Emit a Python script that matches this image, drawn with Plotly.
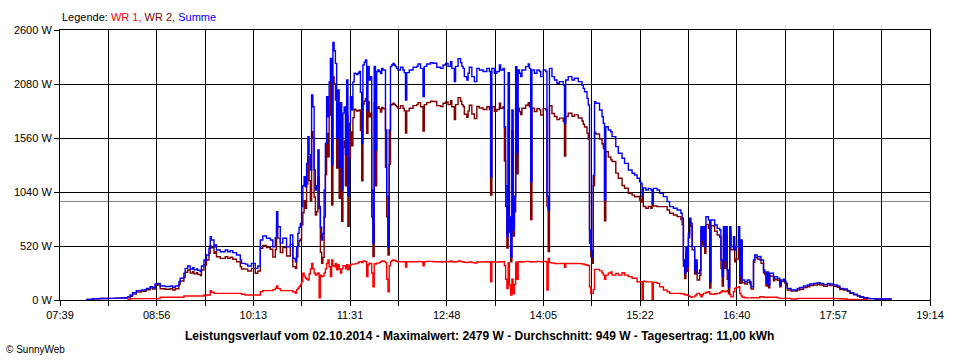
import plotly.graph_objects as go
from datetime import datetime

DAY = "2014-10-02"

times = [
    "08:00","08:05","08:11","08:17","08:23","08:28","08:33","08:35","08:37","08:40",
    "08:44","08:47","08:48","08:51","08:53","08:55","08:57","08:59","09:03","09:07",
    "09:09","09:11","09:14","09:15","09:18","09:19","09:21","09:23","09:25","09:26",
    "09:28","09:29","09:31","09:32","09:34","09:36","09:38","09:39","09:40","09:42",
    "09:43","09:44","09:47","09:50","09:51","09:53","09:55","09:57","10:00","10:03",
    "10:04","10:07","10:09","10:12","10:15","10:17","10:19","10:21","10:24","10:27",
    "10:29","10:31","10:32","10:33","10:35","10:37","10:40","10:43","10:45","10:47",
    "10:48","10:49","10:50",
    "10:51","10:52","10:53","10:54","10:55","10:56","10:57","10:58","10:59","11:00",
    "11:01","11:02","11:03","11:04","11:05","11:06","11:07","11:08","11:09","11:10",
    "11:11","11:12","11:13","11:14","11:15","11:16","11:17","11:18","11:19","11:20",
    "11:21","11:22","11:23","11:24","11:25","11:26","11:27","11:28","11:29","11:30",
    "11:31","11:32","11:33","11:34","11:35","11:36","11:37","11:38","11:39","11:40",
    "11:41","11:42","11:43","11:44","11:45","11:46","11:47","11:48","11:49","11:50",
    "11:51","11:52","11:53","11:54","11:55","11:56","11:57","11:58","11:59","12:00",
    "12:01","12:02","12:03","12:04","12:05",
    "12:06","12:07","12:08","12:09","12:11","12:13","12:14","12:15","12:16","12:18",
    "12:21","12:24","12:25","12:27","12:29","12:30","12:32","12:35","12:37","12:40",
    "12:43","12:45","12:47","12:49","12:51","12:52","12:54","12:55","12:57","12:59",
    "13:00","13:01","13:02","13:04","13:05","13:06","13:08","13:10","13:12","13:14",
    "13:17","13:20","13:22","13:23","13:24","13:26","13:28","13:30","13:31","13:33",
    "13:34","13:35","13:36","13:37","13:38","13:39","13:40","13:41","13:42","13:43",
    "13:44","13:45",
    "13:46","13:47","13:48","13:51","13:53","13:54","13:55","13:56","13:58","14:00",
    "14:02","14:03","14:05","14:07","14:08","14:09","14:10","14:12","14:14","14:16",
    "14:18","14:21","14:22","14:23","14:25","14:28","14:30","14:33","14:36","14:37",
    "14:38","14:40","14:41","14:42","14:43","14:44","14:45","14:46","14:47","14:50",
    "14:52","14:53","14:54","14:55","14:57","14:59","15:00","15:03","15:05","15:08",
    "15:10","15:13","15:16","15:18","15:20",
    "15:22","15:23","15:24","15:25","15:27","15:29","15:31","15:32","15:33","15:36",
    "15:38","15:41","15:44","15:46","15:49","15:52","15:55","15:56","15:57","15:58",
    "15:59","16:00","16:01","16:02","16:03","16:04","16:06","16:07","16:08","16:10",
    "16:11","16:12","16:13","16:14","16:15","16:17","16:18","16:19","16:22","16:24",
    "16:26","16:27","16:28","16:29","16:30","16:31","16:32","16:33","16:34","16:35",
    "16:37","16:38","16:39","16:41","16:42","16:43","16:44","16:46","16:48","16:50",
    "16:51","16:53","16:54","16:56",
    "16:58","16:59","17:01","17:02","17:03","17:04","17:05","17:06","17:08","17:09",
    "17:10","17:12","17:14","17:15","17:17","17:18","17:19","17:20","17:23","17:25",
    "17:28","17:30","17:33","17:36","17:38","17:41","17:44","17:46","17:49","17:52",
    "17:54","17:57","18:00","18:02","18:05","18:08","18:10","18:13","18:16","18:18",
    "18:21","18:24","18:26","18:30","18:34","18:38","18:43",
]

# Summe (blue), W
summe = [
    5,12,14,16,18,19,30,48,70,90,
    96,100,112,128,118,154,160,135,130,135,
    122,135,176,209,257,305,327,298,310,290,
    300,285,273,327,385,433,498,610,578,513,
    530,481,465,465,481,465,475,456,433,385,
    353,345,327,353,305,327,578,616,595,578,
    513,600,850,706,548,594,513,626,401,369,
    513,642,700,
    738,899,1100,1187,1091,1316,1573,1400,1252,1974,
    1861,1252,1059,1100,1445,900,700,578,640,1059,
    1509,1958,1765,2100,2327,1300,2479,2400,2279,1560,
    2022,1280,1900,1059,1800,1860,1400,2119,1000,1700,
    1958,1830,2100,2183,2180,2170,2183,2200,2000,1509,
    2263,2290,2311,1830,2250,2119,2150,1059,546,2250,
    1445,2200,2215,2200,2180,2230,2215,2215,1637,1000,
    513,1637,2247,2263,2279,
    2263,2247,2230,2215,2241,2215,2190,1926,2190,2215,
    2241,2250,2273,2230,1958,2250,2273,2286,2280,2241,
    2230,2263,2279,2250,2295,2230,2103,2250,2324,2286,
    2250,2230,2151,2119,2183,2241,2151,2103,2230,2215,
    2200,2230,2200,1187,2230,2183,2200,2263,2215,2230,
    1669,1100,610,2190,800,417,1830,675,1000,2247,
    1416,2215,
    2183,2151,2215,2247,2273,2230,1139,2215,2183,2215,
    2200,2151,2215,2200,1000,867,2230,2151,2119,2087,
    2103,2070,1701,2119,2151,2119,2135,2103,2070,2038,
    2006,1942,1878,674,480,417,1200,1910,1894,1830,
    1765,1701,963,1669,1637,1620,1573,1477,1413,1365,
    1316,1252,1220,1204,1172,
    1139,1120,1000,1080,1059,1075,1059,931,1075,1059,
    1027,995,947,899,883,867,835,787,385,257,
    510,321,640,787,738,514,289,385,257,289,
    706,578,706,514,802,770,176,770,722,690,
    674,385,225,706,385,706,289,128,706,514,
    610,480,514,706,225,578,192,176,192,176,
    128,385,433,417,
    420,385,289,270,160,270,144,257,257,210,
    225,210,144,193,200,180,160,112,96,96,
    112,120,135,144,154,160,167,160,148,160,
    154,144,135,112,106,90,70,55,42,32,
    22,16,13,10,10,10,8,
]

# WR 1 (red), W
wr1 = [
    None,None,None,None,None,None,5,13,13,13,
    13,13,13,13,13,13,13,26,26,26,
    26,26,26,26,38,38,38,38,38,38,
    38,38,38,38,48,48,48,90,75,64,
    64,64,64,64,64,64,64,64,64,64,
    55,48,48,48,48,48,80,90,90,90,
    100,113,135,110,90,90,90,90,80,64,
    100,113,130,
    150,176,257,230,209,200,193,250,300,353,
    300,260,241,250,260,20,240,225,230,260,
    300,353,385,320,225,385,330,320,353,290,
    340,300,260,300,330,330,300,340,290,330,
    340,345,345,345,350,350,360,369,369,360,
    375,375,370,225,340,355,350,260,128,350,
    345,355,355,360,370,375,375,370,360,200,
    80,330,370,380,385,
    380,375,370,370,369,369,369,318,369,369,
    369,369,372,369,330,369,372,372,369,369,
    366,369,372,369,375,369,366,369,375,372,
    369,366,362,360,362,366,360,356,366,366,
    366,369,366,176,369,366,366,369,369,369,
    330,200,110,360,145,48,200,60,150,365,
    200,369,
    369,366,369,372,372,369,365,369,369,372,
    369,369,372,369,96,400,360,355,352,350,
    352,350,315,352,352,350,352,350,346,346,
    340,335,330,128,64,64,100,295,295,280,
    260,240,200,240,260,270,240,255,240,262,
    240,225,210,210,176,
    176,176,0,180,175,175,175,0,170,160,
    128,96,80,64,64,64,60,60,60,50,
    50,45,40,35,26,30,40,50,64,50,
    30,50,64,64,75,80,60,55,60,64,
    70,80,90,85,80,85,90,60,50,30,
    80,112,120,128,64,40,26,22,20,20,
    22,22,22,22,
    32,32,26,26,26,26,26,26,26,26,
    26,20,16,16,16,16,16,16,10,10,
    16,16,16,16,16,16,16,16,16,16,
    16,13,13,12,10,6,6,5,4,4,
    3,2,None,None,None,None,None,
]

# WR 2 (dark red), W
wr2 = [
    5,12,14,16,18,19,25,35,57,77,
    83,87,99,115,105,141,147,109,104,109,
    96,109,150,183,219,267,289,260,272,252,
    262,247,235,289,337,385,450,520,503,449,
    466,417,401,401,417,401,411,392,369,321,
    298,297,279,305,257,279,498,526,505,488,
    413,487,715,596,458,504,423,536,321,305,
    413,529,570,
    588,723,843,957,882,1116,1380,1150,952,1621,
    1561,992,818,850,1185,880,460,353,410,799,
    1209,1605,1380,1780,2102,915,2149,2080,1926,1270,
    1682,980,1640,759,1470,1530,1100,1779,710,1370,
    1618,1485,1755,1838,1830,1820,1823,1831,1631,1149,
    1888,1915,1941,1605,1910,1764,1800,799,418,1900,
    1100,1845,1860,1840,1810,1855,1840,1845,1277,800,
    433,1307,1877,1883,1894,
    1883,1872,1860,1845,1872,1846,1821,1608,1821,1846,
    1872,1881,1901,1861,1628,1881,1901,1914,1911,1872,
    1864,1894,1907,1881,1920,1861,1737,1881,1949,1914,
    1881,1864,1789,1759,1821,1875,1791,1747,1864,1849,
    1834,1861,1834,1011,1861,1817,1834,1894,1846,1861,
    1339,900,500,1830,655,369,1630,615,850,1882,
    1216,1846,
    1814,1785,1846,1875,1901,1861,774,1846,1814,1843,
    1831,1782,1843,1831,904,467,1870,1796,1767,1737,
    1751,1720,1386,1767,1799,1769,1783,1753,1724,1692,
    1666,1607,1548,546,416,353,1100,1615,1599,1550,
    1505,1461,763,1429,1377,1350,1333,1222,1173,1103,
    1076,1027,1010,994,996,
    963,944,1000,900,884,900,884,931,905,899,
    899,899,867,835,819,803,775,727,325,207,
    460,276,600,752,712,484,249,335,193,239,
    676,528,642,450,727,690,116,715,662,626,
    604,305,135,621,305,621,199,68,656,484,
    530,368,394,578,161,538,166,154,172,156,
    106,363,411,395,
    388,353,263,244,134,244,118,231,231,184,
    199,190,128,177,184,164,144,96,86,86,
    96,104,119,128,138,144,151,144,132,144,
    138,131,122,100,96,84,64,50,38,28,
    19,14,13,10,10,10,8,
]

x_tick_labels = ["07:39", "08:56", "10:13", "11:31", "12:48",
                 "14:05", "15:22", "16:40", "17:57", "19:14"]
y_tick_values = [0, 520, 1040, 1560, 2080, 2600]
average_w = 949
max_w = 2479
total_kwh = "11,00"

assert len(times) == len(summe) == len(wr1) == len(wr2), (len(times), len(summe), len(wr1), len(wr2))

x = [f"{DAY} {t}" for t in times]

start = datetime(2014, 10, 2, 7, 39)
end = datetime(2014, 10, 2, 19, 14)
span = end - start
n_div = 2 * (len(x_tick_labels) - 1)
tickvals = [start + span * i / n_div for i in range(n_div + 1)]
ticktext = [x_tick_labels[i // 2] if i % 2 == 0 else "" for i in range(n_div + 1)]

FONT = "Liberation Sans, Arial, sans-serif"

fig = go.Figure()
fig.add_trace(go.Scatter(x=x, y=wr1, mode="lines", line=dict(color="#FF0000", width=1.4, shape="hv"),
                         name="WR 1", connectgaps=False))
fig.add_trace(go.Scatter(x=x, y=wr2, mode="lines", line=dict(color="#800000", width=1.4, shape="hv"),
                         name="WR 2"))
fig.add_trace(go.Scatter(x=x, y=summe, mode="lines", line=dict(color="#0000FF", width=1.4, shape="hv"),
                         name="Summe"))

fig.add_shape(type="line", xref="paper", x0=0, x1=1, yref="y", y0=average_w, y1=average_w,
              line=dict(color="#808080", width=1), layer="below")

fig.update_layout(
    width=960, height=360,
    margin=dict(l=60, r=30, t=30, b=60),
    paper_bgcolor="white", plot_bgcolor="white",
    showlegend=False,
    font=dict(family=FONT, size=11, color="black"),
)
fig.update_xaxes(
    type="date", range=[start, end],
    tickmode="array", tickvals=tickvals, ticktext=ticktext, tickangle=0,
    showgrid=True, gridcolor="black", gridwidth=1,
    ticks="outside", ticklen=5, tickwidth=1, tickcolor="black",
    showline=True, linecolor="black", linewidth=1, mirror=True,
    zeroline=False, tickfont=dict(family=FONT, size=11, color="black"),
)
fig.update_yaxes(
    range=[0, 2600],
    tickmode="array", tickvals=y_tick_values, ticktext=[f"{v} W" for v in y_tick_values],
    showgrid=True, gridcolor="black", gridwidth=1,
    ticks="outside", ticklen=5, tickwidth=1, tickcolor="black",
    showline=True, linecolor="black", linewidth=1, mirror=True,
    zeroline=False, tickfont=dict(family=FONT, size=11, color="black"),
)

fig.add_annotation(
    xref="paper", yref="paper", x=0, y=(300 - 17) / 270, xanchor="left", yanchor="middle",
    showarrow=False, font=dict(family=FONT, size=11, color="black"),
    text=("Legende: <span style='color:#FF0000'>WR 1,</span> "
          "<span style='color:#800000'>WR 2,</span> "
          "<span style='color:#0000FF'>Summe</span>"),
)
fig.add_annotation(
    xref="paper", yref="paper", x=(479 - 60) / 870, y=(300 - 336) / 270,
    xanchor="center", yanchor="middle", showarrow=False,
    font=dict(family=FONT, size=12, color="black"),
    text=(f"<b>Leistungsverlauf vom 02.10.2014 - Maximalwert: {max_w} W - "
          f"Durchschnitt: {average_w} W - Tagesertrag: {total_kwh} kWh</b>"),
)
fig.add_annotation(
    xref="paper", yref="paper", x=(4 - 60) / 870, y=(300 - 349) / 270,
    xanchor="left", yanchor="middle", showarrow=False,
    font=dict(family=FONT, size=10, color="black"),
    text="© SunnyWeb",
)

fig.write_html("out.html", config={"displayModeBar": False},
               post_script="document.body.style.margin='0';")
